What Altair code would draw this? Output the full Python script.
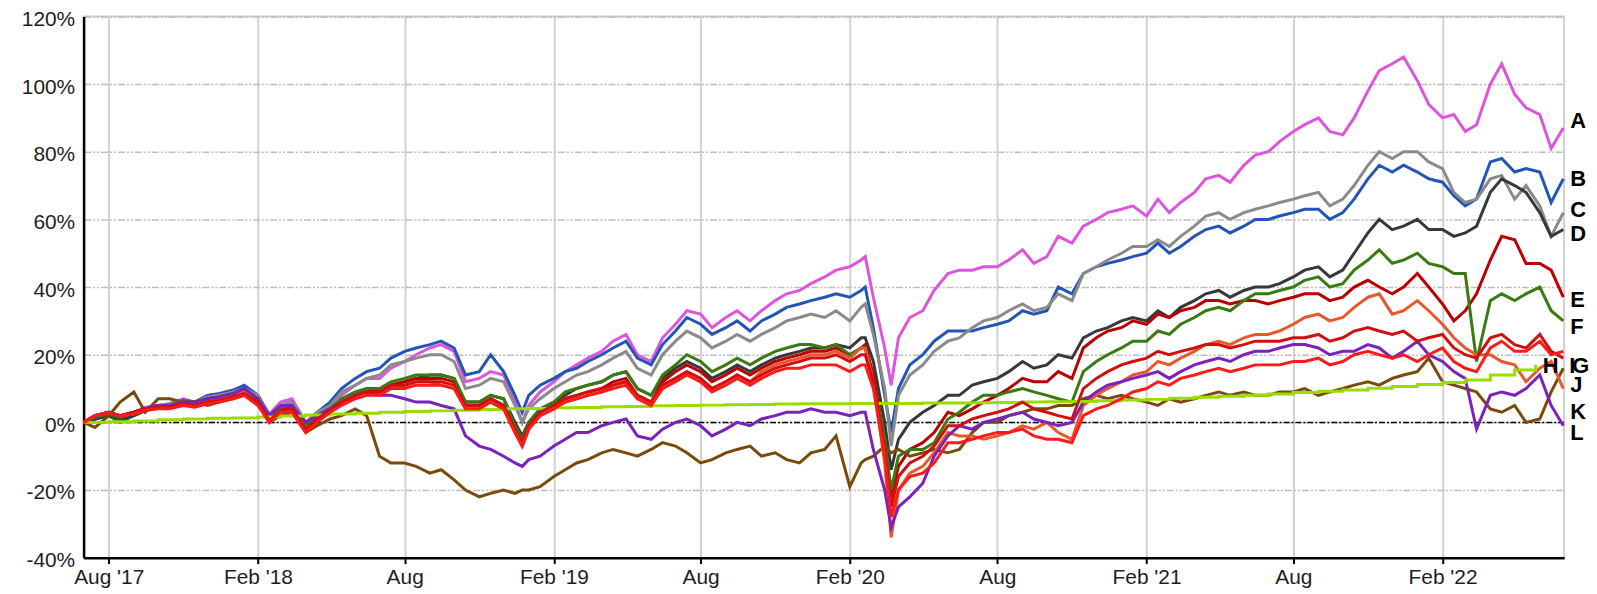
import altair as alt
import pandas as pd

# ---------------- data ----------------
series_names = ["A", "B", "C", "D", "E", "F", "G", "H", "I", "J", "K", "L"]
series_colors = ["#DD55DD", "#2255B5", "#8A8A8A", "#383838", "#BB0000", "#3A7A10",
                 "#FF1A1A", "#99DD00", "#D10F0F", "#7A4A0A", "#E8582C", "#7A22BB"]

tick_dates = ["2017-08-01", "2018-02-01", "2018-08-01", "2019-02-01", "2019-08-01",
              "2020-02-01", "2020-08-01", "2021-02-01", "2021-08-01", "2022-02-01"]
tick_labels = ["Aug '17", "Feb '18", "Aug", "Feb '19", "Aug", "Feb '20", "Aug", "Feb '21", "Aug", "Feb '22"]
y_ticks = [-40, -20, 0, 20, 40, 60, 80, 100, 120]

# semi-monthly sample dates (1st and 15th) plus a few extra event dates
extra_dates = ["2018-12-24", "2020-02-20", "2020-03-23"]
end_date = "2022-06-30"

A = [0, 1.5, 2.5, 1.5, 3, 4.5, 5, 5.5, 7, 6, 8, 8.5,
     9.5, 10.5, 8, 2.5, 6, 7, 0, 3, 5, 8, 11, 13,
     13, 16, 18, 20, 22, 23, 21, 12, 13, 15, 14, 6, 0,
     5, 9, 12, 15, 17, 19, 21, 24, 26, 20, 18, 25,
     29, 33, 32, 28, 31, 33, 30, 33, 36, 38, 39, 41,
     43, 45, 46, 48, 49, 37, 22, 11, 25, 31, 33, 39, 44, 45,
     45, 46, 46, 48, 51, 47, 49, 55, 53, 58, 60, 62,
     63, 64, 61, 66, 62, 65, 68, 72, 73, 71, 76, 79,
     80, 83, 86, 88, 90, 86, 85, 90, 98, 104, 106, 108,
     101, 94, 90, 91, 86, 88, 100, 106, 97, 93, 91, 81, 87]

B = [0, 1, 2, 0, 2, 3.5, 4.5, 5, 6.5, 6, 8, 8.5,
     9.5, 11, 8, 2, 5, 6, -1, 3, 6, 10, 13, 15,
     16, 19, 21, 22, 23, 24, 22, 14, 15, 20, 15, 8, 3,
     8, 11, 13, 15, 16, 18, 20, 22, 24, 19, 17, 23,
     27, 31, 29, 26, 28, 30, 27, 30, 32, 34, 35, 36,
     37, 38, 37, 39, 40, 28, 8, -3, 10, 17, 20, 24, 27, 27,
     27, 28, 29, 30, 33, 32, 33, 40, 38, 44, 46, 47,
     48, 49, 50, 53, 50, 52, 55, 57, 58, 56, 58, 60,
     60, 61, 62, 63, 63, 60, 62, 66, 72, 76, 74, 76,
     74, 72, 71, 67, 64, 66, 77, 78, 74, 75, 74, 65, 72]

C = [0, 1, 2, 1, 2.5, 4, 5, 5.5, 6.5, 6, 7.5, 8,
     9, 10, 8, 2, 5, 6, 0, 3, 5, 9, 11, 13,
     14, 17, 18, 19, 20, 20, 18, 10, 11, 13, 12, 5, 0,
     4, 7, 10, 12, 14, 15, 17, 19, 21, 16, 14, 20,
     24, 27, 25, 22, 24, 26, 24, 26, 28, 30, 31, 32,
     31, 33, 30, 34, 35, 26, 10, -7, 8, 14, 17, 21, 24, 25,
     28, 30, 31, 33, 35, 33, 34, 38, 36, 44, 46, 48,
     50, 52, 52, 54, 52, 55, 58, 61, 62, 60, 62, 63,
     64, 65, 66, 67, 68, 64, 66, 70, 76, 80, 78, 80,
     80, 77, 75, 68, 65, 66, 72, 73, 66, 70, 64, 55, 62]

D = [0, 1, 2, 1, 2, 3.5, 4.5, 5, 6, 5.5, 7, 7.5,
     8.5, 9.5, 7, 1, 4, 5, -1, 2, 4, 6, 8, 9,
     9, 11, 12, 13, 14, 14, 13, 6, 6, 8, 7, 0, -4,
     0, 4, 6, 8, 10, 11, 12, 14, 15, 10, 8, 13,
     16, 18, 16, 13, 15, 17, 15, 17, 19, 20, 21, 22,
     22, 23, 22, 25, 25, 18, 0, -14, -5, 0, 3, 5, 8, 8,
     11, 12, 13, 15, 18, 16, 17, 20, 19, 25, 27, 28,
     30, 31, 30, 33, 31, 34, 36, 38, 39, 37, 39, 40,
     40, 41, 43, 45, 46, 43, 45, 50, 56, 60, 57, 58,
     60, 57, 57, 55, 56, 58, 68, 72, 70, 68, 62, 55, 57]

E = [0, 2, 3, 2, 3, 4, 5, 5, 6, 5.5, 7, 7,
     8, 9, 6, 1, 4, 4, -2, 1, 4, 6, 8, 10,
     9, 11, 12, 13, 13, 13, 12, 5, 5, 7, 5, -2, -6,
     -1, 3, 5, 7, 8, 9, 10, 12, 13, 8, 6, 12,
     15, 17, 15, 12, 14, 16, 14, 16, 18, 19, 20, 21,
     21, 22, 20, 22, 23, 14, -5, -22, -13, -8, -6, -3, 3, 2,
     4, 6, 8, 10, 13, 12, 12, 15, 13, 22, 25, 27,
     28, 30, 29, 32, 31, 33, 34, 36, 36, 35, 36, 36,
     35, 36, 37, 38, 38, 36, 37, 40, 42, 40, 38, 40,
     44, 40, 35, 30, 33, 38, 48, 55, 54, 47, 47, 45, 37]

F = [0, 1.5, 2.5, 1.5, 3, 4, 5, 5, 6.5, 6, 7, 7.5,
     8.5, 9, 7, 1.5, 4.5, 5, -1, 2, 4, 7, 9, 10,
     10, 12, 13, 14, 14, 14, 13, 6, 6, 8, 7, -1, -5,
     0, 4, 6, 9, 10, 11, 12, 14, 15, 10, 8, 14,
     17, 20, 18, 15, 17, 19, 17, 19, 21, 22, 23, 23,
     22, 23, 20, 22, 22, 12, -5, -20, -10, -8, -8, -6, 1, 3,
     6, 8, 8, 9, 10, 9, 8, 7, 6, 15, 18, 20,
     22, 24, 24, 27, 26, 29, 31, 33, 34, 33, 36, 38,
     38, 39, 40, 42, 43, 40, 41, 45, 48, 51, 47, 48,
     50, 47, 46, 44, 44, 18, 36, 38, 36, 38, 40, 33, 30]

G = [0, 2, 3, 2, 2.5, 3.5, 4, 4, 5, 4.5, 5.5, 6,
     7, 8, 5, 0, 3, 3, -3, 0, 3, 5, 7, 8,
     8, 10, 10, 11, 11, 11, 10, 4, 4, 6, 4, -3, -7,
     -2, 2, 4, 6, 7, 8, 9, 10, 11, 7, 5, 10,
     12, 14, 12, 9, 11, 13, 11, 13, 15, 16, 16, 17,
     17, 17, 15, 17, 17, 10, -10, -28, -20, -16, -15, -12, -6, -6,
     -5, -4, -3, -3, -2, -4, -5, -5, -6, 2, 4, 5,
     7, 9, 10, 12, 11, 13, 14, 15, 16, 15, 16, 17,
     17, 17, 18, 18, 19, 17, 18, 20, 21, 20, 19, 20,
     18, 20, 22, 18, 16, 15, 22, 24, 21, 21, 24, 20, 21]

I = [0, 2, 3, 2, 3, 4, 4.5, 4.5, 5.5, 5, 6, 6.5,
     7.5, 8.5, 6, 0.5, 3.5, 4, -2, 1, 3.5, 6, 8, 9,
     9, 11, 11, 12, 12, 12, 11, 5, 5, 7, 5, -2, -6,
     -1, 3, 5, 7, 8, 9, 10, 11, 12, 8, 6, 11,
     13, 15, 13, 10, 12, 14, 12, 14, 16, 17, 18, 19,
     19, 20, 18, 20, 20, 12, -8, -25, -16, -12, -10, -7, -1, -1,
     1, 2, 3, 4, 6, 4, 3, 2, 1, 10, 13, 15,
     17, 18, 19, 21, 20, 21, 22, 23, 23, 22, 23, 24,
     24, 24, 25, 25, 26, 24, 25, 27, 28, 27, 26, 27,
     24, 25, 26, 22, 20, 19, 25, 26, 23, 22, 26, 21, 19]

J = [0, -1.5, 2, 6, 9, 3, 7, 7, 6, 6, 5, 6,
     7, 8, 7, 0, 2, 3, -3, -1, 1, 2, 4, 2,
     -10, -12, -12, -13, -15, -14, -17, -20, -22, -21, -20, -21, -20,
     -20, -19, -16, -14, -12, -11, -9, -8, -9, -10, -8, -6,
     -7, -9, -12, -11, -9, -8, -7, -10, -9, -11, -12, -9,
     -8, -4, -19, -12, -11, -10, -7, -9, -8, -10, -9, -8, -9, -8,
     -3, 0, 0, 2, 3, 4, 4, 5, 5, 7, 8, 7,
     8, 7, 6, 5, 7, 6, 7, 8, 9, 8, 9, 8,
     8, 9, 9, 10, 8, 9, 10, 11, 12, 11, 13, 14,
     15, 19, 12, 11, 10, 9, 4, 3, 5, 0, 1, 9, 16]

K = [0, 2, 3, 2, 2.5, 4, 4.5, 5, 6, 5, 6.5, 7,
     8, 9, 6, 0, 3, 4, -2, 1, 3, 6, 8, 9,
     8, 10, 11, 12, 12, 11, 10, 4, 4, 6, 4, -3, -7,
     -2, 2, 4, 6, 7, 8, 9, 11, 12, 8, 6, 11,
     13, 15, 13, 10, 12, 14, 12, 15, 17, 18, 19, 20,
     20, 21, 19, 22, 22, 12, -12, -34, -20, -15, -13, -9, -3, -4,
     -4, -5, -4, -3, -1, -2, 0, -3, -5, 5, 8, 10,
     12, 14, 15, 18, 17, 19, 21, 23, 24, 23, 25, 26,
     26, 27, 29, 31, 32, 30, 31, 34, 37, 38, 32, 33,
     36, 33, 29, 25, 22, 20, 20, 18, 17, 12, 16, 18, 10]

L = [0, 2, 3, 2, 3, 4, 5, 5, 6, 6, 7, 7.5,
     8.5, 10, 7, 2, 5, 5, 0, 2, 4, 6, 8, 9,
     8, 8, 7, 6, 6, 5, 4, -4, -7, -8, -10, -12, -13,
     -11, -10, -7, -5, -3, -3, -1, 0, 1, -4, -5, -2,
     0, 1, -1, -4, -2, 0, -1, 1, 2, 3, 3, 4,
     3, 3, 2, 3, 3, -8, -20, -31, -25, -22, -18, -10, -4, -1,
     -2, 0, 1, 2, 3, 1, 0, -1, 0, 6, 9, 11,
     12, 13, 14, 15, 13, 15, 17, 18, 19, 18, 20, 21,
     21, 22, 23, 23, 22, 20, 21, 21, 23, 22, 19, 21,
     24, 20, 18, 15, 13, -2, 8, 9, 8, 10, 14, 5, -1]

# H: monthly values (step line), ends earlier than the others
H_start, H_end_date = "2017-07-01", "2022-05-27"
H = [0, 0.2, 0.4, 0.8, 1.0, 1.2,
     1.3, 1.6, 1.9, 2.2, 2.5, 2.7, 3.0, 3.2, 3.4, 3.6, 3.8, 4.0,
     4.1, 4.3, 4.4, 4.6, 4.7, 4.9, 5.0, 5.1, 5.2, 5.3, 5.4, 5.5,
     5.5, 5.6, 5.6, 5.6, 5.7, 5.7, 5.8, 5.9, 6.0, 6.1, 6.2, 6.4,
     6.6, 6.8, 7.1, 7.4, 7.7, 8.0, 8.4, 8.8, 9.2, 9.6, 10.1, 10.6,
     11.2, 11.8, 12.5, 14.0, 15.5, 17.0]

# end-label positions (percent) and horizontal nudges
label_pos = [89.0, 71.8, 62.9, 55.6, 36.2, 28.2, 16.8, 16.8, 16.8, 10.9, 3.2, -3.2]
label_dx = [7, 7, 7, 7, 7, 7, 9, 7, 6, 7, 7, 7]

# ---------------- build tables ----------------
semi = list(pd.date_range("2017-07-01", "2022-06-15", freq="SMS"))
dates = sorted(semi + [pd.Timestamp(d) for d in extra_dates]) + [pd.Timestamp(end_date)]
h_dates = list(pd.date_range(H_start, "2022-05-01", freq="MS")) + [pd.Timestamp(H_end_date)]

values = dict(A=A, B=B, C=C, D=D, E=E, F=F, G=G, I=I, J=J, K=K, L=L)
rows = []
for name, vals in values.items():
    assert len(vals) == len(dates), (name, len(vals), len(dates))
    for d, v in zip(dates, vals):
        rows.append({"date": d, "value": v, "series": name})
assert len(H) == len(h_dates), (len(H), len(h_dates))
for d, v in zip(h_dates, H):
    rows.append({"date": d, "value": v, "series": "H"})
df = pd.DataFrame(rows)

last_dates = {n: (h_dates[-1] if n == "H" else dates[-1]) for n in series_names}
lab = pd.DataFrame({"series": series_names,
                    "date": [last_dates[n] for n in series_names],
                    "pos": label_pos, "dx": label_dx})

color_of = dict(zip(series_names, series_colors))

# ---------------- scales / axes ----------------
label_expr = ""
for d, l in zip(tick_dates, tick_labels):
    label_expr += f'timeFormat(datum.value, "%Y-%m") == "{d[:7]}" ? "{l}" : '
label_expr += '""'

x_scale = alt.Scale(domain=[alt.DateTime(year=2017, month=7, date=1),
                            alt.DateTime(year=2022, month=7, date=1)])
y_scale = alt.Scale(domain=[-40, 120], nice=False, zero=False)

x_axis = alt.Axis(
    values=[alt.DateTime(year=int(d[:4]), month=int(d[5:7]), date=1) for d in tick_dates],
    labelExpr=label_expr, title=None, grid=True, gridColor="#d2d2d2", gridWidth=2,
    tickColor="black", tickSize=6, tickWidth=2, labelPadding=3, labelAngle=0,
    labelFlush=False, labelOverlap=False, domainColor="black", domainWidth=2.5)
y_axis = alt.Axis(
    values=y_ticks, labelExpr='datum.value + "%"', title=None, grid=True,
    gridColor="#bdbdbd", gridWidth=1.5, gridDash=[7, 2, 2, 2, 2, 2],
    ticks=False, tickSize=0, labelPadding=9, labelFlush=False, labelOffset=3,
    domainColor="black", domainWidth=2.5)

X = alt.X("date:T", scale=x_scale, axis=x_axis)
Yq = alt.Y("value:Q", scale=y_scale, axis=y_axis)

base = alt.Chart(df)

zero_line = alt.Chart(pd.DataFrame({"value": [0]})).mark_rule(
    color="black", strokeWidth=1.5, strokeDash=[6, 2, 2, 2]).encode(y=Yq)

draw_order = ["A", "B", "C", "D", "E", "F", "J", "K", "L", "H", "I", "G"]
layers = [zero_line]
for n in draw_order:
    mk = dict(color=color_of[n], strokeWidth=3)
    if n == "H":
        mk["interpolate"] = "step-after"
    layers.append(base.transform_filter(alt.datum.series == n).mark_line(**mk).encode(x=X, y=Yq))

for dxv in sorted(set(label_dx)):
    layers.append(
        alt.Chart(lab[lab.dx == dxv]).mark_text(
            align="left", baseline="middle", dx=dxv, font="Liberation Sans",
            fontSize=22, fontWeight="bold", color="black").encode(
            x=alt.X("date:T", scale=x_scale, axis=x_axis),
            y=alt.Y("pos:Q", scale=y_scale, axis=y_axis),
            text="series:N"))

chart = alt.layer(*layers).properties(
    width=1488, height=544,
    autosize=alt.AutoSizeParams(type="none"),
    padding={"left": 76, "top": 7, "right": 25, "bottom": 33},
).configure_view(stroke="#cfcfcf", strokeWidth=2).configure_axis(
    labelFont="Liberation Sans", labelFontSize=21, labelColor="#1e1e1e")

chart.save("out.html", embed_options={"renderer": "svg", "actions": False})
